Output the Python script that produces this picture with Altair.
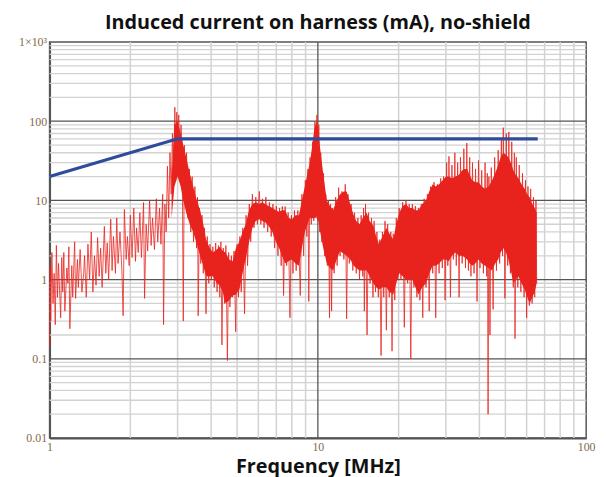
import altair as alt
import pandas as pd

TITLE = "Induced current on harness (mA), no-shield"
X_TITLE = "Frequency [MHz]"
RED = "#e8231e"
BLUE = "#2f4b9b"
LABEL_COLOR = "#7f6a4a"

# limit line (mA)
limit_freq = [1, 3, 66]
limit_val = [20, 60, 60]

# solid core of the measured spectrum (low / high edge, mA)
band_freq = [2.85, 2.92, 3.0, 3.08, 3.15, 3.23, 3.33, 3.43, 3.54, 3.64, 3.74, 3.83, 3.95, 4.06,
             4.2, 4.31, 4.42, 4.53, 4.67, 4.81, 4.95, 5.1, 5.24, 5.38, 5.54, 5.7, 5.87, 6.05,
             6.2, 6.36, 6.55, 6.77, 6.97, 7.17, 7.35, 7.55, 7.77, 8.0, 8.25, 8.5, 8.72, 8.94,
             9.15, 9.33, 9.5, 9.7, 9.9, 10.05, 10.2, 10.5, 10.8, 11.1, 11.4, 11.75, 12.1, 12.5,
             12.8, 13.2, 13.6, 13.9, 14.3, 14.7, 15.2, 15.6, 16.1, 16.5, 16.9, 17.4, 18.0, 18.5,
             19.1, 19.6, 20.1, 20.7, 21.3, 21.9, 22.5, 23.1, 23.7, 24.5, 25.3, 26.0, 26.8, 27.5,
             28.3, 29.2, 30.0, 30.7, 31.6, 32.6, 33.5, 34.5, 35.3, 36.0, 36.8, 37.6, 38.6, 39.7,
             40.8, 42.0, 43.3, 44.6, 45.8, 47.0, 48.0, 49.1, 50.2, 51.3, 52.4, 53.5, 54.7, 55.9,
             57.4, 59.0, 60.3, 61.6, 63.0, 64.3, 65.4]
band_lo = [6, 15, 20, 15, 10, 7, 5, 4, 2.8, 2, 1.5, 1.1, 1.1, 1.1,
           0.9, 0.84, 0.7, 0.5, 0.55, 0.63, 0.65, 0.75, 1.2, 1.8, 3, 4.5, 5.5, 5.8,
           5.5, 5.3, 4.8, 4, 3, 2.5, 2, 1.6, 1.7, 1.8, 1.6, 1.5, 2.5, 4,
           5, 6, 6, 6, 6.3, 5.5, 4, 2.4, 1.6, 1.4, 1.3, 1.8, 2.3, 2.1,
           2, 1.8, 1.5, 1.4, 1.3, 1.3, 1.3, 1.1, 0.9, 0.8, 0.75, 0.8, 0.8, 0.7,
           0.65, 0.9, 1.2, 1.1, 1.0, 1.0, 1.0, 0.8, 0.65, 0.8, 0.9, 1.2, 1.5, 1.5,
           1.6, 1.8, 1.8, 1.7, 2, 2.2, 2, 2, 1.9, 1.8, 1.6, 1.5, 1.6, 1.8,
           1.6, 1.5, 1.4, 1.3, 1.6, 1.8, 2.2, 2.5, 2.2, 1.8, 1.3, 0.9, 1.0, 1.1,
           0.9, 0.75, 0.6, 0.5, 0.6, 0.7, 0.9]
band_hi = [20, 90, 100, 70, 50, 35, 22, 15, 10, 7.5, 5, 3.2, 2.5, 2.2,
           2.4, 2.6, 2.3, 2.2, 1.8, 1.7, 2.5, 3, 4, 5, 7.5, 9, 9.5, 9,
           9.5, 9, 8.5, 8, 7.5, 7.2, 7.5, 7.5, 6, 5.8, 6.5, 6.5, 10, 15,
           22, 30, 45, 80, 100, 80, 45, 20, 10, 8.5, 7.5, 10, 12, 13,
           13, 9, 6.5, 5.5, 5, 6, 7, 5.5, 4.8, 3.5, 2.8, 3.5, 4.5, 3.8,
           3.2, 5, 7, 8.5, 9, 8, 8, 7.5, 7.5, 9, 10, 13, 16, 15,
           16, 18, 20, 20, 19, 20, 21, 24, 25, 25, 21, 18, 17, 17,
           15, 14, 15, 18, 22, 28, 35, 40, 38, 35, 30, 24, 21, 19,
           16, 14, 12, 11, 9, 8, 7]

# measured trace, 1 - 3.1 MHz  (frequency MHz, current mA)
trace_low = [(1.00, 0.14), (1.005, 1.5), (1.01, 0.3), (1.02, 2.2), (1.03, 0.5), (1.04, 1.2),
             (1.05, 0.27), (1.06, 2.7), (1.07, 0.6), (1.08, 1.6), (1.10, 0.33), (1.11, 1.9),
             (1.12, 0.7), (1.13, 2.2), (1.14, 0.4), (1.16, 1.4), (1.17, 0.9), (1.18, 2.6),
             (1.19, 0.24), (1.21, 1.5), (1.22, 0.6), (1.24, 3.0), (1.25, 0.58), (1.27, 1.8),
             (1.28, 0.8), (1.30, 2.4), (1.32, 0.7), (1.34, 1.2), (1.35, 2.0), (1.37, 0.6),
             (1.39, 2.8), (1.41, 1.0), (1.43, 4.0), (1.45, 0.7), (1.47, 2.0), (1.49, 0.85),
             (1.51, 3.4), (1.53, 1.1), (1.55, 2.5), (1.57, 0.8), (1.60, 4.7), (1.62, 1.2),
             (1.64, 2.9), (1.66, 1.0), (1.69, 5.8), (1.71, 1.3), (1.73, 3.5), (1.76, 1.2),
             (1.78, 6.0), (1.80, 1.6), (1.83, 4.0), (1.86, 1.3), (1.88, 0.35), (1.90, 7.7),
             (1.93, 1.8), (1.95, 3.5), (1.98, 1.5), (2.00, 6.5), (2.03, 1.9), (2.06, 8.0),
             (2.09, 1.7), (2.11, 4.5), (2.14, 2.2), (2.17, 7.0), (2.20, 1.9), (2.24, 9.4),
             (2.26, 0.58), (2.29, 5.0), (2.32, 2.3), (2.36, 10), (2.39, 2.7), (2.42, 6.0),
             (2.46, 2.4), (2.50, 10.5), (2.53, 3.0), (2.57, 8.0), (2.60, 2.8), (2.64, 12),
             (2.66, 0.27), (2.69, 9), (2.72, 4), (2.75, 27), (2.78, 6), (2.81, 40),
             (2.84, 12), (2.87, 70), (2.90, 20), (2.93, 150), (2.95, 40), (2.98, 130),
             (3.00, 60), (3.03, 120), (3.06, 40), (3.09, 90)]

# measured trace, 3.1 - 10 MHz
trace_mid = [(3.12, 45), (3.15, 0.3), (3.18, 50), (3.21, 9), (3.24, 40), (3.28, 6), (3.32, 25),
             (3.36, 4), (3.40, 20), (3.44, 3), (3.48, 15), (3.53, 2.5), (3.56, 11), (3.58, 0.35),
             (3.62, 8), (3.66, 1.6), (3.70, 6.5), (3.74, 1.2), (3.78, 4.5), (3.83, 0.37),
             (3.87, 3.5), (3.92, 0.9), (3.96, 2.8), (4.01, 1.0), (4.06, 2.6), (4.11, 0.8),
             (4.16, 2.9), (4.21, 0.7), (4.26, 2.7), (4.31, 0.6), (4.35, 3.0), (4.39, 0.15),
             (4.44, 2.5), (4.49, 0.5), (4.54, 2.7), (4.60, 0.095), (4.65, 2.2), (4.70, 0.45),
             (4.76, 2.0), (4.81, 0.6), (4.87, 2.3), (4.94, 0.22), (5.00, 2.8), (5.06, 0.6),
             (5.12, 3.5), (5.18, 0.7), (5.25, 4.5), (5.33, 0.37), (5.40, 6.5), (5.47, 1.5),
             (5.55, 9), (5.62, 3), (5.70, 12), (5.78, 4.5), (5.87, 11), (5.95, 5), (6.05, 13),
             (6.13, 5), (6.22, 10.5), (6.30, 4.5), (6.40, 11), (6.50, 4), (6.60, 9.5),
             (6.70, 3.5), (6.80, 9), (6.90, 2.5), (7.00, 8.5), (7.10, 2), (7.20, 8), (7.30, 1.5),
             (7.37, 8.4), (7.45, 0.63), (7.55, 8.4), (7.65, 1.5), (7.75, 7), (7.87, 0.33),
             (7.97, 6.5), (8.08, 1.2), (8.18, 7.5), (8.30, 1.3), (8.42, 7.5), (8.60, 0.63),
             (8.72, 12), (8.85, 2), (8.98, 18), (9.10, 3.5), (9.18, 25), (9.25, 0.53),
             (9.35, 35), (9.45, 5), (9.55, 55), (9.65, 5.5), (9.75, 100), (9.85, 6), (9.92, 120)]

# measured trace, 10 - 65 MHz
trace_high = [(10.0, 5.5), (10.08, 90), (10.16, 4), (10.25, 40), (10.35, 3), (10.5, 22), (10.6, 2),
              (10.7, 12), (10.85, 1.5), (10.95, 10), (11.05, 0.33), (11.15, 9), (11.25, 0.4),
              (11.35, 8), (11.5, 1.2), (11.65, 11), (11.8, 1.5), (11.95, 14.5), (12.1, 2),
              (12.3, 13), (12.5, 1.8), (12.65, 16), (12.8, 0.32), (12.95, 12), (13.1, 1.6),
              (13.3, 9), (13.5, 1.3), (13.7, 7), (13.9, 1.2), (14.1, 6), (14.3, 1.0), (14.5, 6.5),
              (14.7, 1.1), (14.8, 8), (14.9, 0.4), (15.05, 9), (15.25, 0.2), (15.45, 7),
              (15.65, 0.9), (15.85, 6), (16.05, 0.6), (16.2, 5.5), (16.4, 0.7), (16.6, 4),
              (16.8, 0.6), (17.0, 3.2), (17.2, 0.11), (17.4, 4), (17.6, 0.6), (17.8, 5.5),
              (18.0, 0.23), (18.2, 5), (18.45, 0.6), (18.7, 4), (18.9, 0.125), (19.1, 3.8),
              (19.35, 0.55), (19.6, 6), (19.85, 1.0), (20.1, 8), (20.4, 1.0), (20.7, 9.5),
              (21.0, 0.25), (21.3, 10), (21.6, 0.9), (21.9, 9), (22.2, 0.1), (22.5, 9),
              (22.8, 0.8), (23.1, 8.5), (23.4, 0.6), (23.7, 8), (24.0, 0.55), (24.3, 9),
              (24.6, 0.33), (24.9, 10.5), (25.3, 0.8), (25.6, 12), (26.0, 0.4), (26.3, 15),
              (26.8, 1.2), (27.1, 17), (27.5, 0.33), (27.9, 16), (28.3, 1.2), (28.7, 19),
              (29.1, 1.4), (29.4, 20), (29.8, 0.55), (30.2, 30), (30.5, 1.5), (30.8, 36),
              (31.2, 0.6), (31.6, 28), (32.0, 1.8), (32.4, 40), (32.8, 1.5), (33.2, 30),
              (33.6, 0.6), (34.0, 35), (34.5, 1.6), (35.0, 45), (35.5, 1.4), (35.9, 53),
              (36.4, 1.3), (36.8, 35), (37.2, 1.1), (37.7, 30), (38.2, 1.2), (38.7, 25),
              (39.2, 0.53), (39.7, 32), (40.2, 1.4), (40.8, 24), (41.4, 1.2), (42.0, 30),
              (42.6, 1.1), (42.8, 22), (43.1, 0.02), (43.4, 20), (43.8, 0.2), (44.3, 26),
              (45.0, 0.42), (45.6, 35), (46.3, 1.3), (47.0, 43), (47.6, 1.6), (48.3, 60),
              (48.8, 2), (49.1, 83), (49.8, 0.58), (50.4, 70), (51.0, 1.5), (51.5, 73),
              (52.2, 1.2), (52.8, 55), (53.5, 0.8), (54.0, 40), (54.3, 0.18), (54.9, 35),
              (55.6, 0.8), (56.3, 28), (57.1, 0.7), (57.9, 22), (58.7, 0.6), (59.4, 18),
              (60.0, 0.33), (60.7, 15), (61.4, 0.47), (62.1, 14), (62.9, 0.5), (63.6, 11),
              (64.3, 0.6), (65.0, 10), (65.4, 0.9)]

# grid
x_ticks = [1, 10, 100]
y_ticks = [0.01, 0.1, 1, 10, 100, 1000]
x_major = [10]
y_major = [0.1, 1, 10, 100]
x_minor = [m * d for d in (1, 10) for m in range(2, 10)]
y_minor = [m * d for d in (0.01, 0.1, 1, 10, 100) for m in range(2, 10)]

xs = alt.Scale(type="log", domain=[1, 100], nice=False)
ys = alt.Scale(type="log", domain=[0.01, 1000], nice=False)

x_axis = alt.Axis(values=x_ticks, format="~g", grid=False, ticks=False, labelFlush=False,
                  labelFont="Liberation Serif", labelFontSize=12, labelColor=LABEL_COLOR,
                  labelPadding=4, domainColor="#555555", domainWidth=2,
                  titleFont="Open Sans", titleFontSize=20, titleFontWeight="bold",
                  titleColor="#111111", titlePadding=4)
y_axis = alt.Axis(values=y_ticks,
                  labelExpr="datum.value >= 1000 ? '1×10³' : format(datum.value, '~g')",
                  grid=False, ticks=False, labelFont="Liberation Serif", labelFontSize=12,
                  labelColor=LABEL_COLOR, labelPadding=3, domainColor="#555555", domainWidth=2)


def X(field):
    return alt.X(f"{field}:Q", scale=xs, axis=x_axis, title=X_TITLE)


def Y(field):
    return alt.Y(f"{field}:Q", scale=ys, axis=y_axis, title="")


trace_pts = trace_low + trace_mid + trace_high
trace_df = pd.DataFrame({"f": [p[0] for p in trace_pts], "v": [p[1] for p in trace_pts],
                         "i": list(range(len(trace_pts)))})
band_df = pd.DataFrame({"f": band_freq, "lo": band_lo, "hi": band_hi})
limit_df = pd.DataFrame({"f": limit_freq, "v": limit_val})

minor_x = alt.Chart(pd.DataFrame({"f": x_minor})).mark_rule(color="#d2d2d2", strokeWidth=1.5).encode(x=X("f"))
minor_y = alt.Chart(pd.DataFrame({"v": y_minor})).mark_rule(color="#d2d2d2", strokeWidth=1.3).encode(y=Y("v"))
major_x = alt.Chart(pd.DataFrame({"f": x_major})).mark_rule(color="#555555", strokeWidth=1.3).encode(x=X("f"))
major_y = alt.Chart(pd.DataFrame({"v": y_major})).mark_rule(color="#555555", strokeWidth=1.3).encode(y=Y("v"))

band = alt.Chart(band_df).mark_area(color=RED, opacity=1).encode(x=X("f"), y=Y("lo"), y2="hi:Q")
trace = alt.Chart(trace_df).mark_line(color=RED, strokeWidth=1, opacity=0.8).encode(
    x=X("f"), y=Y("v"), order="i:Q")
limit = alt.Chart(limit_df).mark_line(color=BLUE, strokeWidth=3.2).encode(x=X("f"), y=Y("v"))

chart = alt.layer(minor_x, minor_y, major_x, major_y, band, trace, limit).properties(
    width=542, height=400,
    title=alt.TitleParams(TITLE, font="Open Sans", fontSize=20, fontWeight="bold",
                          color="#111111", anchor="middle", frame="group", offset=3),
    autosize=alt.AutoSizeParams(type="none"),
    padding={"left": 42, "top": 32, "right": 16, "bottom": 37},
).configure_view(stroke="#555555", strokeWidth=1.5)

chart.save("out.html", embed_options={"renderer": "svg", "actions": False})
